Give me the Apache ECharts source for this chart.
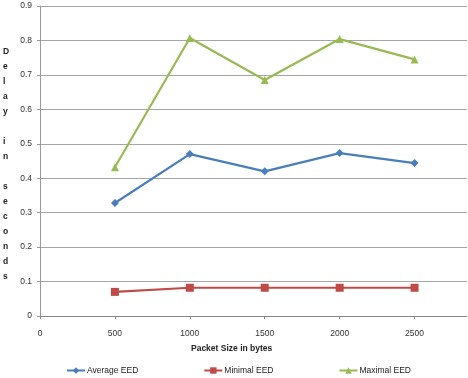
<!DOCTYPE html>
<html>
<head>
<meta charset="utf-8">
<script src="https://cdn.jsdelivr.net/npm/echarts@6/dist/echarts.min.js"></script>
<style>
  html, body { margin: 0; padding: 0; background: #fff; }
  #chart { width: 468px; height: 378px; }
</style>
</head>
<body>
<div id="chart"></div>
<script>
const packetSizes = [500, 1000, 1500, 2000, 2500]
const averageEED = [0.328, 0.47, 0.42, 0.473, 0.444]
const minimalEED = [0.07, 0.082, 0.082, 0.082, 0.082]
const maximalEED = [0.432, 0.807, 0.685, 0.804, 0.745]

const pairs = vals => packetSizes.map((x, i) => [x, vals[i]])
const font = '"Liberation Sans", Arial, sans-serif'

const chart = echarts.init(document.getElementById('chart'))
chart.setOption({
  animation: false,
  grid: { left: 40, top: 6, right: 1, bottom: 62, outerBoundsMode: 'none' },
  legend: {
    left: 61,
    top: 361,
    itemGap: 65,
    itemWidth: 18,
    itemHeight: 8,
    textStyle: { fontSize: 8.5, color: '#222', fontFamily: font, padding: [0, 0, 0, -3] },
    data: ['Average EED', 'Minimal EED', 'Maximal EED']
  },
  xAxis: {
    type: 'value',
    min: 0,
    max: 2850,
    interval: 500,
    splitLine: { show: false },
    axisLine: { lineStyle: { color: '#888' } },
    axisTick: { show: true, length: 3, lineStyle: { color: '#888' } },
    axisLabel: {
      fontSize: 8.5, color: '#333', fontFamily: font, margin: 13,
      showMaxLabel: false,
      formatter: v => v > 2500 ? '' : v
    }
  },
  yAxis: {
    type: 'value',
    min: 0,
    max: 0.9,
    interval: 0.1,
    axisLine: { show: true, lineStyle: { color: '#999' } },
    axisTick: { show: true, length: 3, lineStyle: { color: '#999' } },
    splitLine: { lineStyle: { color: '#a6a6a6', width: 1 } },
    axisLabel: {
      fontSize: 8.5, color: '#333', fontFamily: font, margin: 8,
      formatter: v => Number(v.toFixed(1)).toString()
    }
  },
  graphic: [
    {
      type: 'text',
      left: 3,
      top: 44,
      style: {
        text: 'D\ne\nl\na\ny\n\ni\nn\n\ns\ne\nc\no\nn\nd\ns',
        fontSize: 8.5,
        fontWeight: 'bold',
        lineHeight: 15,
        fill: '#222',
        align: 'center',
        width: 10,
        fontFamily: font
      }
    },
    {
      type: 'text',
      left: 191,
      top: 344,
      style: {
        text: 'Packet Size in bytes',
        fontSize: 8.5,
        fontWeight: 'bold',
        fill: '#222',
        fontFamily: font
      }
    }
  ],
  series: [
    {
      name: 'Average EED',
      type: 'line',
      data: pairs(averageEED),
      symbol: 'diamond',
      symbolSize: 8,
      color: '#4a7ebb',
      lineStyle: { width: 2.2 }
    },
    {
      name: 'Minimal EED',
      type: 'line',
      data: pairs(minimalEED),
      symbol: 'rect',
      symbolSize: 8,
      color: '#be4b48',
      lineStyle: { width: 2.2 }
    },
    {
      name: 'Maximal EED',
      type: 'line',
      data: pairs(maximalEED),
      symbol: 'triangle',
      symbolSize: 8,
      color: '#98b954',
      lineStyle: { width: 2.2 }
    }
  ]
})
</script>
</body>
</html>
